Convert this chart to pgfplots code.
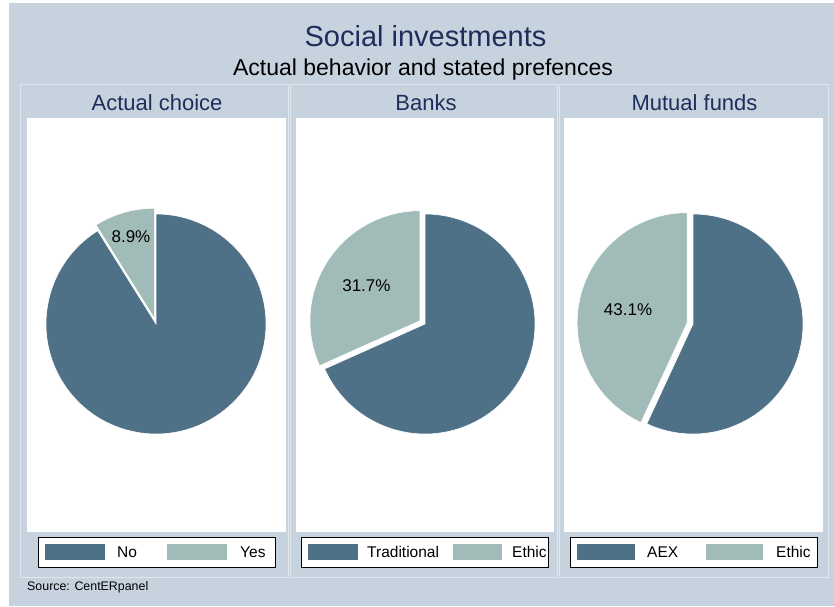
\documentclass[border=0pt]{standalone}
\usepackage{pgfplots}
\pgfplotsset{compat=1.18}
\usepackage{pgfplotstable}
\usepackage{fontspec}
\setmainfont{Liberation Sans}
\usetikzlibrary{calc}
\definecolor{bg}{HTML}{C6D3DF}
\definecolor{pdark}{HTML}{4F7188}
\definecolor{plight}{HTML}{A1BCB8}
\definecolor{pline}{HTML}{DEE7EE}
\definecolor{ttl}{HTML}{1E2E5C}

% share of the second (exploded) category, in percent
\pgfplotstableread{
panel cx share lfrac
1 156 8.9 0.77
2 425 31.7 0.58
3 693 43.1 0.55
}\pies

\newcommand{\fs}[1]{\fontsize{#1}{#1}\selectfont}

\newcommand{\pie}[3]{% #1 centre x, #2 share, #3 label distance fraction
  \fill[pdark, draw=white, line width=0.6pt] (axis cs:#1,282) -- ++({90+3.6*#2}:110pt)
     arc[start angle={90+3.6*#2}, end angle=450, radius=110pt] -- cycle;
  \fill[plight, draw=white, line width=0.6pt, shift={({90+1.8*#2}:6pt)}] (axis cs:#1,282) -- ++(90:110pt)
     arc[start angle=90, end angle={90+3.6*#2}, radius=110pt] -- cycle;
  \node[font=\fs{17}, text=black, inner sep=0pt, shift={({90+1.8*#2}:6pt)}]
     at ($(axis cs:#1,282)+({90+1.8*#2}:{#3*110pt})$)
     {\pgfmathprintnumber[fixed,precision=1,fixed zerofill,assume math mode=true]{#2}\%};
}

\begin{document}
\pgfplotstablegetelem{0}{share}\of\pies \let\sA\pgfplotsretval
\pgfplotstablegetelem{1}{share}\of\pies \let\sB\pgfplotsretval
\pgfplotstablegetelem{2}{share}\of\pies \let\sC\pgfplotsretval
\pgfplotstablegetelem{0}{lfrac}\of\pies \let\fA\pgfplotsretval
\pgfplotstablegetelem{1}{lfrac}\of\pies \let\fB\pgfplotsretval
\pgfplotstablegetelem{2}{lfrac}\of\pies \let\fC\pgfplotsretval
\begin{tikzpicture}
\begin{axis}[
  at={(0,0)}, anchor=south west,
  scale only axis, width=834pt, height=606pt,
  xmin=0, xmax=834, ymin=0, ymax=606,
  hide axis, clip=false]
  % backgrounds
  \fill[white] (axis cs:0,0) rectangle (axis cs:834,606);
  \fill[bg] (axis cs:9,0) rectangle (axis cs:834,603);
  % titles
  \node[font=\fs{29}, text=ttl] at (axis cs:425.5,570) {Social investments};
  \node[font=\fs{23}, text=black] at (axis cs:423,536) {Actual behavior and stated prefences};
  % panels
  \draw[pline, line width=1pt] (axis cs:20,29) rectangle (axis cs:288,521);
  \draw[pline, line width=1pt] (axis cs:290,29) rectangle (axis cs:557,521);
  \draw[pline, line width=1pt] (axis cs:559,29) rectangle (axis cs:828,521);
  \fill[white] (axis cs:27,74) rectangle (axis cs:286,488);
  \fill[white] (axis cs:296,74) rectangle (axis cs:554,488);
  \fill[white] (axis cs:564,74) rectangle (axis cs:823,488);
  \node[font=\fs{22}, text=ttl] at (axis cs:157,503) {Actual choice};
  \node[font=\fs{22}, text=ttl] at (axis cs:426,503) {Banks};
  \node[font=\fs{22}, text=ttl] at (axis cs:694.5,503) {Mutual funds};
  % pies
  \pie{156}{\sA}{\fA}
  \pie{425}{\sB}{\fB}
  \pie{693}{\sC}{\fC}
  % legends
  \draw[black, fill=white, line width=0.8pt] (axis cs:38,39) rectangle (axis cs:275,69);
  \fill[pdark] (axis cs:45,46) rectangle (axis cs:105,62);
  \fill[plight] (axis cs:167,46) rectangle (axis cs:227,62);
  \node[font=\fs{15.5}, anchor=west, inner sep=0pt] at (axis cs:117,54) {No};
  \node[font=\fs{15.5}, anchor=west, inner sep=0pt] at (axis cs:240,54) {Yes};
  \draw[black, fill=white, line width=0.8pt] (axis cs:301,39) rectangle (axis cs:548,69);
  \fill[pdark] (axis cs:308,46) rectangle (axis cs:358,62);
  \fill[plight] (axis cs:453,46) rectangle (axis cs:502,62);
  \node[font=\fs{15.5}, anchor=west, inner sep=0pt] at (axis cs:367,54) {Traditional};
  \node[font=\fs{15.5}, anchor=west, inner sep=0pt] at (axis cs:512,54) {Ethic};
  \draw[black, line width=0.8pt] (axis cs:548,39) -- (axis cs:548,69);
  \draw[black, fill=white, line width=0.8pt] (axis cs:570,39) rectangle (axis cs:817,69);
  \fill[pdark] (axis cs:577,46) rectangle (axis cs:635,62);
  \fill[plight] (axis cs:706,46) rectangle (axis cs:763,62);
  \node[font=\fs{15.5}, anchor=west, inner sep=0pt] at (axis cs:647,54) {AEX};
  \node[font=\fs{15.5}, anchor=west, inner sep=0pt] at (axis cs:776,54) {Ethic};
  % note
  \node[font=\fs{12.4}, anchor=west, inner sep=0pt] at (axis cs:27,19) {Source: CentERpanel};
\end{axis}
\end{tikzpicture}
\end{document}
